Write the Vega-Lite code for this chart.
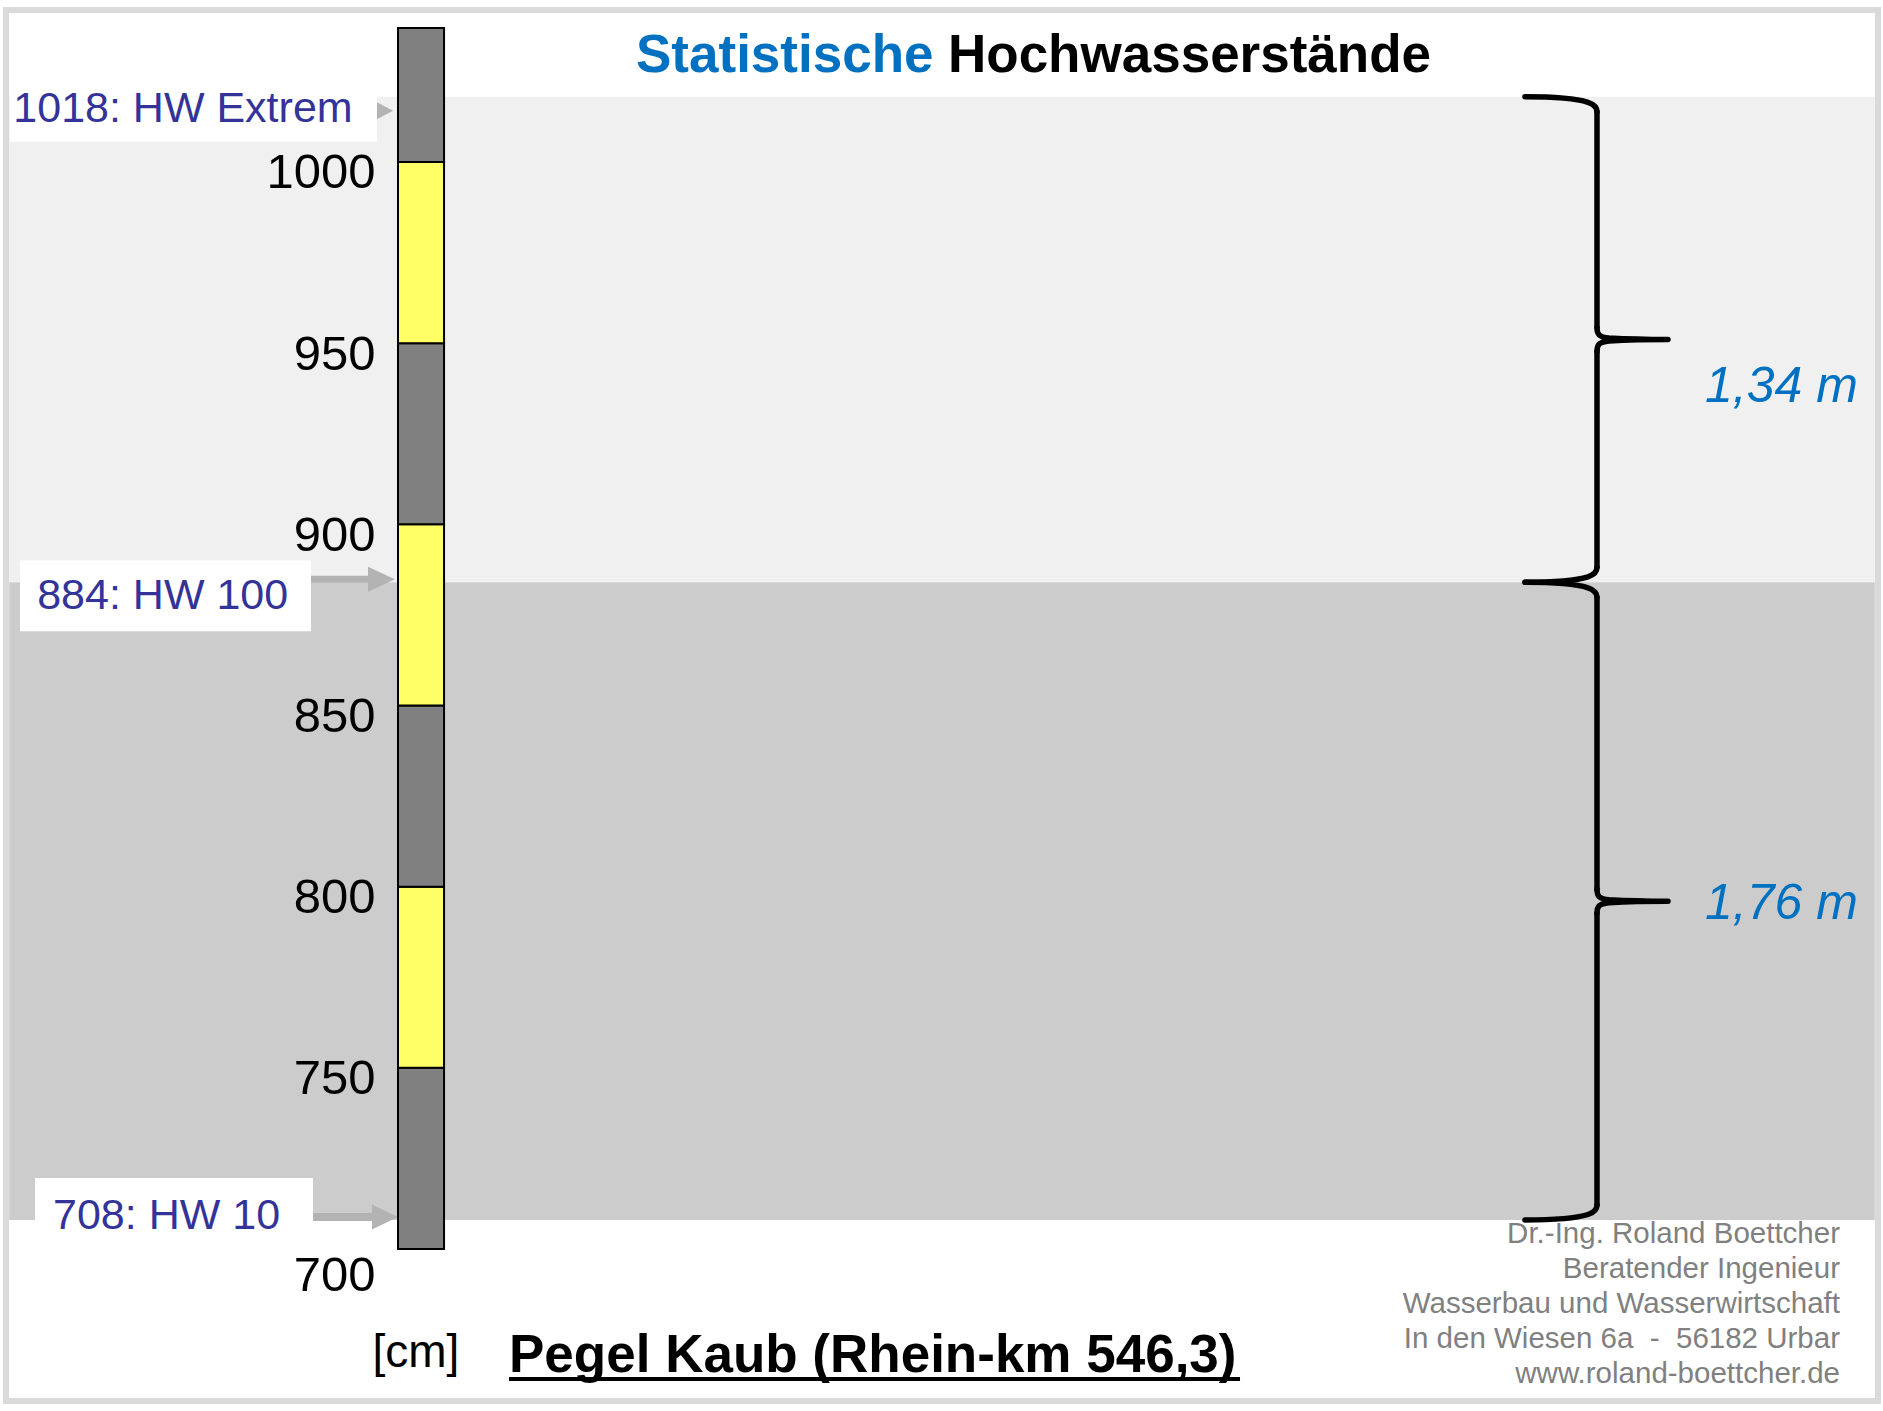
{
  "$schema": "https://vega.github.io/schema/vega-lite/v6.json",
  "width": 1872,
  "height": 1391,
  "padding": {"left": 6, "top": 10, "right": 5, "bottom": 10},
  "autosize": {"type": "none"},
  "background": "white",
  "config": {
    "view": {"stroke": "#dadada", "strokeWidth": 6, "fill": "white"},
    "font": "Liberation Sans",
    "text": {"font": "Liberation Sans"}
  },
  "resolve": {"axis": {"y": "independent"}},
  "datasets": {
    "stufen": [
      {"von": 700, "bis": 750, "farbe": "grau"},
      {"von": 750, "bis": 800, "farbe": "gelb"},
      {"von": 800, "bis": 850, "farbe": "grau"},
      {"von": 850, "bis": 900, "farbe": "gelb"},
      {"von": 900, "bis": 950, "farbe": "grau"},
      {"von": 950, "bis": 1000, "farbe": "gelb"},
      {"von": 1000, "bis": 1037, "farbe": "grau"}
    ],
    "bereiche": [
      {"von": 884, "bis": 1018, "farbe": "HW 100 bis HW Extrem"},
      {"von": 708, "bis": 884, "farbe": "HW 10 bis HW 100"}
    ],
    "marken": [
      {"wert": 1018, "name": "HW Extrem", "label": "1018: HW Extrem"},
      {"wert": 884, "name": "HW 100", "label": "884: HW 100"},
      {"wert": 708, "name": "HW 10", "label": "708: HW 10"}
    ],
    "spannen": [
      {"von": 884, "mitte": 951, "bis": 1018, "text": "1,34 m"},
      {"von": 708, "mitte": 796, "bis": 884, "text": "1,76 m"}
    ],
    "beschriftung": [
      {"id": "titel_a", "text": "Statistische"},
      {"id": "titel_b", "text": "Hochwasserstände"},
      {"id": "pegel", "text": "Pegel Kaub (Rhein-km 546,3)"},
      {"id": "impressum", "text": ["Dr.-Ing. Roland Boettcher", "Beratender Ingenieur", "Wasserbau und Wasserwirtschaft", "In den Wiesen 6a \u00a0-\u00a0 56182 Urbar", "www.roland-boettcher.de"]}
    ]
  },
  "layer": [
    {
      "data": {"name": "bereiche"},
      "mark": {"type": "rect"},
      "encoding": {
        "x": {"datum": 0.17, "type": "quantitative", "scale": {"domain": [0, 100], "nice": false, "zero": false}, "axis": null},
        "x2": {"datum": 99.83},
        "y": {"field": "von", "type": "quantitative", "scale": {"domain": [658.05, 1041.95], "nice": false, "zero": false}, "axis": null},
        "y2": {"field": "bis"},
        "color": {"field": "farbe", "type": "nominal", "scale": {"domain": ["grau", "gelb", "HW 10 bis HW 100", "HW 100 bis HW Extrem"], "range": ["#808080", "#ffff66", "#cccccc", "#f0f0f0"]}, "legend": null}
      }
    },
    {
      "data": {"name": "marken"},
      "transform": [{"filter": "datum.wert == 1018"}],
      "mark": {"type": "rect", "fill": "white", "yOffset": -27, "y2Offset": 45},
      "encoding": {
        "x": {"datum": 0.214, "type": "quantitative", "scale": {"domain": [0, 100], "nice": false, "zero": false}, "axis": null},
        "x2": {"datum": 19.818},
        "y": {"field": "wert", "type": "quantitative", "scale": {"domain": [658.05, 1041.95], "nice": false, "zero": false}, "axis": null},
        "y2": {"field": "wert"}
      }
    },
    {
      "data": {"name": "marken"},
      "transform": [{"filter": "datum.wert == 884"}],
      "mark": {"type": "rect", "fill": "white", "yOffset": -22, "y2Offset": 49},
      "encoding": {
        "x": {"datum": 0.748, "type": "quantitative", "scale": {"domain": [0, 100], "nice": false, "zero": false}, "axis": null},
        "x2": {"datum": 16.293},
        "y": {"field": "wert", "type": "quantitative", "scale": {"domain": [658.05, 1041.95], "nice": false, "zero": false}, "axis": null},
        "y2": {"field": "wert"}
      }
    },
    {
      "data": {"name": "marken"},
      "transform": [{"filter": "datum.wert == 708"}],
      "mark": {"type": "rect", "fill": "white", "yOffset": -42, "y2Offset": 22},
      "encoding": {
        "x": {"datum": 1.549, "type": "quantitative", "scale": {"domain": [0, 100], "nice": false, "zero": false}, "axis": null},
        "x2": {"datum": 16.4},
        "y": {"field": "wert", "type": "quantitative", "scale": {"domain": [658.05, 1041.95], "nice": false, "zero": false}, "axis": null},
        "y2": {"field": "wert"}
      }
    },
    {
      "data": {"name": "marken"},
      "transform": [{"filter": "datum.wert == 1018"}],
      "mark": {"type": "point", "shape": "M -16 -8.5 L 0 0 L -16 8.5 Z", "size": 4, "filled": true, "color": "#b3b3b3", "opacity": 1, "strokeWidth": 0, "yOffset": 14},
      "encoding": {
        "x": {"datum": 20.673, "type": "quantitative", "scale": {"domain": [0, 100], "nice": false, "zero": false}, "axis": null},
        "y": {"field": "wert", "type": "quantitative", "scale": {"domain": [658.05, 1041.95], "nice": false, "zero": false}, "axis": null}
      }
    },
    {
      "data": {"name": "marken"},
      "transform": [{"filter": "datum.wert == 884"}],
      "mark": {"type": "point", "shape": "M -84 -3.5 L -27 -3.5 L -27 -12.5 L 0 0 L -27 12.5 L -27 3.5 L -84 3.5 Z", "size": 4, "filled": true, "color": "#b3b3b3", "opacity": 1, "strokeWidth": 0, "yOffset": -3},
      "encoding": {
        "x": {"datum": 20.78, "type": "quantitative", "scale": {"domain": [0, 100], "nice": false, "zero": false}, "axis": null},
        "y": {"field": "wert", "type": "quantitative", "scale": {"domain": [658.05, 1041.95], "nice": false, "zero": false}, "axis": null}
      }
    },
    {
      "data": {"name": "marken"},
      "transform": [{"filter": "datum.wert == 708"}],
      "mark": {"type": "point", "shape": "M -85 -4 L -26 -4 L -26 -12.5 L 0 0 L -26 12.5 L -26 4 L -85 4 Z", "size": 4, "filled": true, "color": "#b3b3b3", "opacity": 1, "strokeWidth": 0, "yOffset": -3},
      "encoding": {
        "x": {"datum": 20.94, "type": "quantitative", "scale": {"domain": [0, 100], "nice": false, "zero": false}, "axis": null},
        "y": {"field": "wert", "type": "quantitative", "scale": {"domain": [658.05, 1041.95], "nice": false, "zero": false}, "axis": null}
      }
    },
    {
      "data": {"name": "stufen"},
      "mark": {"type": "rect", "stroke": "black", "strokeWidth": 2},
      "encoding": {
        "x": {"datum": 20.94, "type": "quantitative", "scale": {"domain": [0, 100], "nice": false, "zero": false}, "axis": null},
        "x2": {"datum": 23.4},
        "y": {
          "field": "von", "type": "quantitative",
          "scale": {"domain": [658.05, 1041.95], "nice": false, "zero": false},
          "axis": {
            "orient": "left",
            "values": [700, 750, 800, 850, 900, 950, 1000],
            "format": "d",
            "offset": -392,
            "domain": false,
            "ticks": false,
            "grid": false,
            "labelFontSize": 49,
            "labelFont": "Liberation Sans",
            "labelColor": "black",
            "labelPadding": 23,
            "labelAlign": "right",
            "labelBaseline": "alphabetic",
            "labelOffset": {"condition": {"test": "datum.value == 700", "value": 41}, "value": 26},
            "labelFlush": false,
            "labelOverlap": false,
            "title": "[cm]",
            "titleAngle": 0,
            "titleX": -26,
            "titleY": 1356,
            "titleAlign": "left",
            "titleBaseline": "alphabetic",
            "titleFontSize": 46,
            "titleFontWeight": "normal",
            "titleFont": "Liberation Sans",
            "titleColor": "black",
            "zindex": 2
          }
        },
        "y2": {"field": "bis"},
        "color": {"field": "farbe", "type": "nominal", "scale": {"domain": ["grau", "gelb", "HW 10 bis HW 100", "HW 100 bis HW Extrem"], "range": ["#808080", "#ffff66", "#cccccc", "#f0f0f0"]}, "legend": null}
      }
    },
    {
      "data": {"name": "marken"},
      "transform": [{"filter": "datum.wert == 1018"}],
      "mark": {"type": "text", "align": "left", "baseline": "alphabetic", "fontSize": 43, "color": "#333399", "dy": 25},
      "encoding": {
        "x": {"datum": 0.39, "type": "quantitative", "scale": {"domain": [0, 100], "nice": false, "zero": false}, "axis": null},
        "y": {"field": "wert", "type": "quantitative", "scale": {"domain": [658.05, 1041.95], "nice": false, "zero": false}, "axis": null},
        "text": {"field": "label"}
      }
    },
    {
      "data": {"name": "marken"},
      "transform": [{"filter": "datum.wert == 884"}],
      "mark": {"type": "text", "align": "left", "baseline": "alphabetic", "fontSize": 43, "color": "#333399", "dy": 27},
      "encoding": {
        "x": {"datum": 1.667, "type": "quantitative", "scale": {"domain": [0, 100], "nice": false, "zero": false}, "axis": null},
        "y": {"field": "wert", "type": "quantitative", "scale": {"domain": [658.05, 1041.95], "nice": false, "zero": false}, "axis": null},
        "text": {"field": "label"}
      }
    },
    {
      "data": {"name": "marken"},
      "transform": [{"filter": "datum.wert == 708"}],
      "mark": {"type": "text", "align": "left", "baseline": "alphabetic", "fontSize": 43, "color": "#333399", "dy": 9},
      "encoding": {
        "x": {"datum": 2.511, "type": "quantitative", "scale": {"domain": [0, 100], "nice": false, "zero": false}, "axis": null},
        "y": {"field": "wert", "type": "quantitative", "scale": {"domain": [658.05, 1041.95], "nice": false, "zero": false}, "axis": null},
        "text": {"field": "label"}
      }
    },
    {
      "data": {"name": "spannen"},
      "mark": {"type": "rule", "color": "black", "strokeWidth": 5.5, "strokeCap": "round", "yOffset": 15, "y2Offset": -12},
      "encoding": {
        "x": {"datum": 84.989, "type": "quantitative", "scale": {"domain": [0, 100], "nice": false, "zero": false}, "axis": null},
        "y": {"field": "bis", "type": "quantitative", "scale": {"domain": [658.05, 1041.95], "nice": false, "zero": false}, "axis": null},
        "y2": {"field": "mitte"}
      }
    },
    {
      "data": {"name": "spannen"},
      "mark": {"type": "rule", "color": "black", "strokeWidth": 5.5, "strokeCap": "round", "yOffset": 12, "y2Offset": -15},
      "encoding": {
        "x": {"datum": 84.989, "type": "quantitative", "scale": {"domain": [0, 100], "nice": false, "zero": false}, "axis": null},
        "y": {"field": "mitte", "type": "quantitative", "scale": {"domain": [658.05, 1041.95], "nice": false, "zero": false}, "axis": null},
        "y2": {"field": "von"}
      }
    },
    {
      "data": {"name": "spannen"},
      "mark": {"type": "point", "shape": "M -72 0 C -40 0 -20 2 -9 5.5 C -3 7.5 0 10 0 15", "size": 4, "filled": false, "color": "black", "opacity": 1, "strokeWidth": 5.5, "strokeCap": "round", "strokeJoin": "round"},
      "encoding": {
        "x": {"datum": 84.989, "type": "quantitative", "scale": {"domain": [0, 100], "nice": false, "zero": false}, "axis": null},
        "y": {"field": "bis", "type": "quantitative", "scale": {"domain": [658.05, 1041.95], "nice": false, "zero": false}, "axis": null}
      }
    },
    {
      "data": {"name": "spannen"},
      "mark": {"type": "point", "shape": "M 0 -15 C 0 -10 -3 -7.5 -9 -5.5 C -20 -2 -40 0 -72 0", "size": 4, "filled": false, "color": "black", "opacity": 1, "strokeWidth": 5.5, "strokeCap": "round", "strokeJoin": "round"},
      "encoding": {
        "x": {"datum": 84.989, "type": "quantitative", "scale": {"domain": [0, 100], "nice": false, "zero": false}, "axis": null},
        "y": {"field": "von", "type": "quantitative", "scale": {"domain": [658.05, 1041.95], "nice": false, "zero": false}, "axis": null}
      }
    },
    {
      "data": {"name": "spannen"},
      "mark": {"type": "point", "shape": "M 0 -12 C 0 -5 2 -2.5 12 -1.5 C 30 -0.5 50 0 71 0 M 0 12 C 0 5 2 2.5 12 1.5 C 30 0.5 50 0 71 0", "size": 4, "filled": false, "color": "black", "opacity": 1, "strokeWidth": 5.5, "strokeCap": "round", "strokeJoin": "round"},
      "encoding": {
        "x": {"datum": 84.989, "type": "quantitative", "scale": {"domain": [0, 100], "nice": false, "zero": false}, "axis": null},
        "y": {"field": "mitte", "type": "quantitative", "scale": {"domain": [658.05, 1041.95], "nice": false, "zero": false}, "axis": null}
      }
    },
    {
      "data": {"name": "spannen"},
      "transform": [{"filter": "datum.von == 884"}],
      "mark": {"type": "text", "align": "left", "baseline": "alphabetic", "fontSize": 50, "fontStyle": "italic", "color": "#0070c0", "dy": 62},
      "encoding": {
        "x": {"datum": 90.759, "type": "quantitative", "scale": {"domain": [0, 100], "nice": false, "zero": false}, "axis": null},
        "y": {"field": "mitte", "type": "quantitative", "scale": {"domain": [658.05, 1041.95], "nice": false, "zero": false}, "axis": null},
        "text": {"field": "text"}
      }
    },
    {
      "data": {"name": "spannen"},
      "transform": [{"filter": "datum.von == 708"}],
      "mark": {"type": "text", "align": "left", "baseline": "alphabetic", "fontSize": 50, "fontStyle": "italic", "color": "#0070c0", "dy": 18},
      "encoding": {
        "x": {"datum": 90.759, "type": "quantitative", "scale": {"domain": [0, 100], "nice": false, "zero": false}, "axis": null},
        "y": {"field": "mitte", "type": "quantitative", "scale": {"domain": [658.05, 1041.95], "nice": false, "zero": false}, "axis": null},
        "text": {"field": "text"}
      }
    },
    {
      "data": {"name": "beschriftung"},
      "transform": [{"filter": "datum.id == 'titel_a'"}],
      "mark": {"type": "text", "align": "left", "baseline": "alphabetic", "fontSize": 53, "fontWeight": "bold", "color": "#0070c0"},
      "encoding": {
        "x": {"datum": 33.654, "type": "quantitative", "scale": {"domain": [0, 100], "nice": false, "zero": false}, "axis": null},
        "y": {"datum": 1024.84, "type": "quantitative", "scale": {"domain": [658.05, 1041.95], "nice": false, "zero": false}, "axis": null},
        "text": {"field": "text"}
      }
    },
    {
      "data": {"name": "beschriftung"},
      "transform": [{"filter": "datum.id == 'titel_b'"}],
      "mark": {"type": "text", "align": "left", "baseline": "alphabetic", "fontSize": 53, "fontWeight": "bold", "color": "black"},
      "encoding": {
        "x": {"datum": 50.32, "type": "quantitative", "scale": {"domain": [0, 100], "nice": false, "zero": false}, "axis": null},
        "y": {"datum": 1024.84, "type": "quantitative", "scale": {"domain": [658.05, 1041.95], "nice": false, "zero": false}, "axis": null},
        "text": {"field": "text"}
      }
    },
    {
      "data": {"name": "beschriftung"},
      "transform": [{"filter": "datum.id == 'pegel'"}],
      "mark": {"type": "text", "align": "left", "baseline": "alphabetic", "fontSize": 53, "fontWeight": "bold", "color": "black"},
      "encoding": {
        "x": {"datum": 26.87, "type": "quantitative", "scale": {"domain": [0, 100], "nice": false, "zero": false}, "axis": null},
        "y": {"datum": 666.05, "type": "quantitative", "scale": {"domain": [658.05, 1041.95], "nice": false, "zero": false}, "axis": null},
        "text": {"field": "text"}
      }
    },
    {
      "data": {"name": "beschriftung"},
      "transform": [{"filter": "datum.id == 'pegel'"}],
      "mark": {"type": "rule", "color": "black", "strokeWidth": 4},
      "encoding": {
        "x": {"datum": 26.87, "type": "quantitative", "scale": {"domain": [0, 100], "nice": false, "zero": false}, "axis": null},
        "x2": {"datum": 65.92},
        "y": {"datum": 664.12, "type": "quantitative", "scale": {"domain": [658.05, 1041.95], "nice": false, "zero": false}, "axis": null}
      }
    },
    {
      "data": {"name": "beschriftung"},
      "transform": [{"filter": "datum.id == 'impressum'"}],
      "mark": {"type": "text", "align": "right", "baseline": "alphabetic", "fontSize": 29.5, "lineHeight": 35, "color": "#808080"},
      "encoding": {
        "x": {"datum": 97.97, "type": "quantitative", "scale": {"domain": [0, 100], "nice": false, "zero": false}, "axis": null},
        "y": {"datum": 701.79, "type": "quantitative", "scale": {"domain": [658.05, 1041.95], "nice": false, "zero": false}, "axis": null},
        "text": {"field": "text"}
      }
    }
  ]
}
